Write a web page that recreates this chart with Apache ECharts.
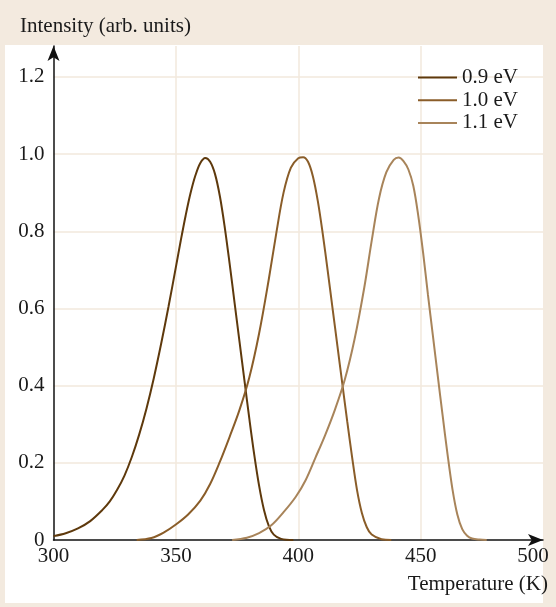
<!DOCTYPE html>
<html>
<head>
<meta charset="utf-8">
<script src="https://cdn.jsdelivr.net/npm/echarts@6/dist/echarts.min.js"></script>
<style>
html,body{margin:0;padding:0;background:#f3eadf;}
#c{width:556px;height:607px;}
</style>
</head>
<body>
<div id="c"></div>
<script>
// ---- data ----
const seriesNames = ['0.9 eV', '1.0 eV', '1.1 eV'];
const temps09 = [300, 305, 310, 315, 320, 323, 326, 329, 332, 335, 338, 341, 344, 347, 350, 352, 354, 356, 358, 360, 362, 364, 366, 368, 370, 372, 374, 376, 378, 380, 382, 384, 386, 388, 390, 393, 398];
const inten09 = [0.01, 0.0175, 0.03, 0.049, 0.078, 0.10, 0.13, 0.167, 0.215, 0.273, 0.341, 0.42, 0.509, 0.605, 0.707, 0.776, 0.841, 0.899, 0.945, 0.977, 0.99, 0.98, 0.948, 0.89, 0.809, 0.714, 0.614, 0.514, 0.414, 0.315, 0.222, 0.141, 0.078, 0.036, 0.014, 0.003, 0];
const temps10 = [334, 340, 345, 350, 355, 360, 364, 368, 372, 376, 380, 384, 388, 391, 394, 397, 400, 402, 404, 406, 408, 410, 412, 414, 416, 418, 420, 422, 424, 426, 428, 430, 434, 438];
const inten10 = [0, 0.005, 0.019, 0.04, 0.066, 0.102, 0.145, 0.203, 0.268, 0.337, 0.421, 0.535, 0.677, 0.794, 0.90, 0.965, 0.989, 0.992, 0.98, 0.942, 0.878, 0.794, 0.699, 0.601, 0.503, 0.405, 0.308, 0.215, 0.13, 0.07, 0.033, 0.014, 0.002, 0];
const temps11 = [373, 379, 384, 389, 394, 399, 403, 407, 411, 415, 419, 423, 427, 430, 433, 436, 439, 441, 443, 445, 447, 449, 451, 453, 455, 457, 459, 461, 463, 465, 467, 469, 471, 474, 477];
const inten11 = [0, 0.006, 0.018, 0.038, 0.072, 0.112, 0.155, 0.213, 0.272, 0.338, 0.415, 0.52, 0.655, 0.775, 0.885, 0.953, 0.985, 0.991, 0.982, 0.96, 0.918, 0.842, 0.745, 0.635, 0.53, 0.425, 0.322, 0.222, 0.132, 0.066, 0.028, 0.011, 0.004, 0.001, 0];
const xTicks = [300, 350, 400, 450, 500];
const yTicks = [0, 0.2, 0.4, 0.6, 0.8, 1.0, 1.2];
const yTitle = 'Intensity (arb. units)';
const xTitle = 'Temperature (K)';

const zip = (a, b) => a.map((v, i) => [v, b[i]]);
const colors = ['#5e390c', '#8a5d29', '#a8845a'];
const font = '"Liberation Serif", "Times New Roman", serif';
const FS = 21;

const chart = echarts.init(document.getElementById('c'), null, {renderer: 'canvas'});
chart.setOption({
  backgroundColor: '#f3eadf',
  animation: false,
  textStyle: {fontFamily: font},
  graphic: [{
    type: 'rect', z: -10, silent: true,
    shape: {x: 5, y: 45, width: 538, height: 558},
    style: {fill: '#ffffff'}
  }],
  title: [
    {text: yTitle, left: 15, top: 11, textStyle: {fontFamily: font, fontSize: FS, fontWeight: 'normal', color: '#1a1a1a'}},
    {text: xTitle, right: 3, top: 569, textStyle: {fontFamily: font, fontSize: FS, fontWeight: 'normal', color: '#1a1a1a'}}
  ],
  legend: {
    data: seriesNames,
    orient: 'vertical',
    left: 413, top: 62,
    itemWidth: 39, itemHeight: 2, itemGap: 1.7,
    icon: 'rect',
    textStyle: {fontFamily: font, fontSize: FS, color: '#1a1a1a', lineHeight: 21}
  },
  grid: {left: 53.5, right: 13, top: 46, bottom: 67, containLabel: false},
  xAxis: {
    type: 'value', min: xTicks[0], max: xTicks[xTicks.length - 1], interval: 50,
    axisLine: {show: true, lineStyle: {color: '#111', width: 1.5}, symbol: ['none', 'arrow'], symbolSize: [9, 15]},
    axisTick: {show: false},
    axisLabel: {
      fontFamily: font, fontSize: FS, color: '#1a1a1a', margin: 6,
      formatter: v => v === 500 ? '{r|500}' : String(v),
      rich: {r: {fontFamily: font, fontSize: FS, color: '#1a1a1a', padding: [0, 20, 0, 0]}}
    },
    splitLine: {show: true, showMinLine: false, showMaxLine: false, lineStyle: {color: '#f2e8dc', width: 1.5}}
  },
  yAxis: {
    type: 'value', min: 0, max: 1.28, interval: 0.2,
    axisLine: {show: true, lineStyle: {color: '#111', width: 1.5}, symbol: ['none', 'arrow'], symbolSize: [9, 15]},
    axisTick: {show: false},
    axisLabel: {
      fontFamily: font, fontSize: FS, color: '#1a1a1a', margin: 9, showMaxLabel: false,
      formatter: v => v === 0 ? '0' : v.toFixed(1)
    },
    splitLine: {show: true, showMinLine: false, showMaxLine: false, lineStyle: {color: '#f2e8dc', width: 1.5}}
  },
  series: [
    {name: seriesNames[0], type: 'line', data: zip(temps09, inten09)},
    {name: seriesNames[1], type: 'line', data: zip(temps10, inten10)},
    {name: seriesNames[2], type: 'line', data: zip(temps11, inten11)}
  ].map((s, i) => Object.assign(s, {
    smooth: 0.35, showSymbol: false, symbol: 'none',
    lineStyle: {color: colors[i], width: 2},
    itemStyle: {color: colors[i]}
  }))
});
</script>
</body>
</html>
